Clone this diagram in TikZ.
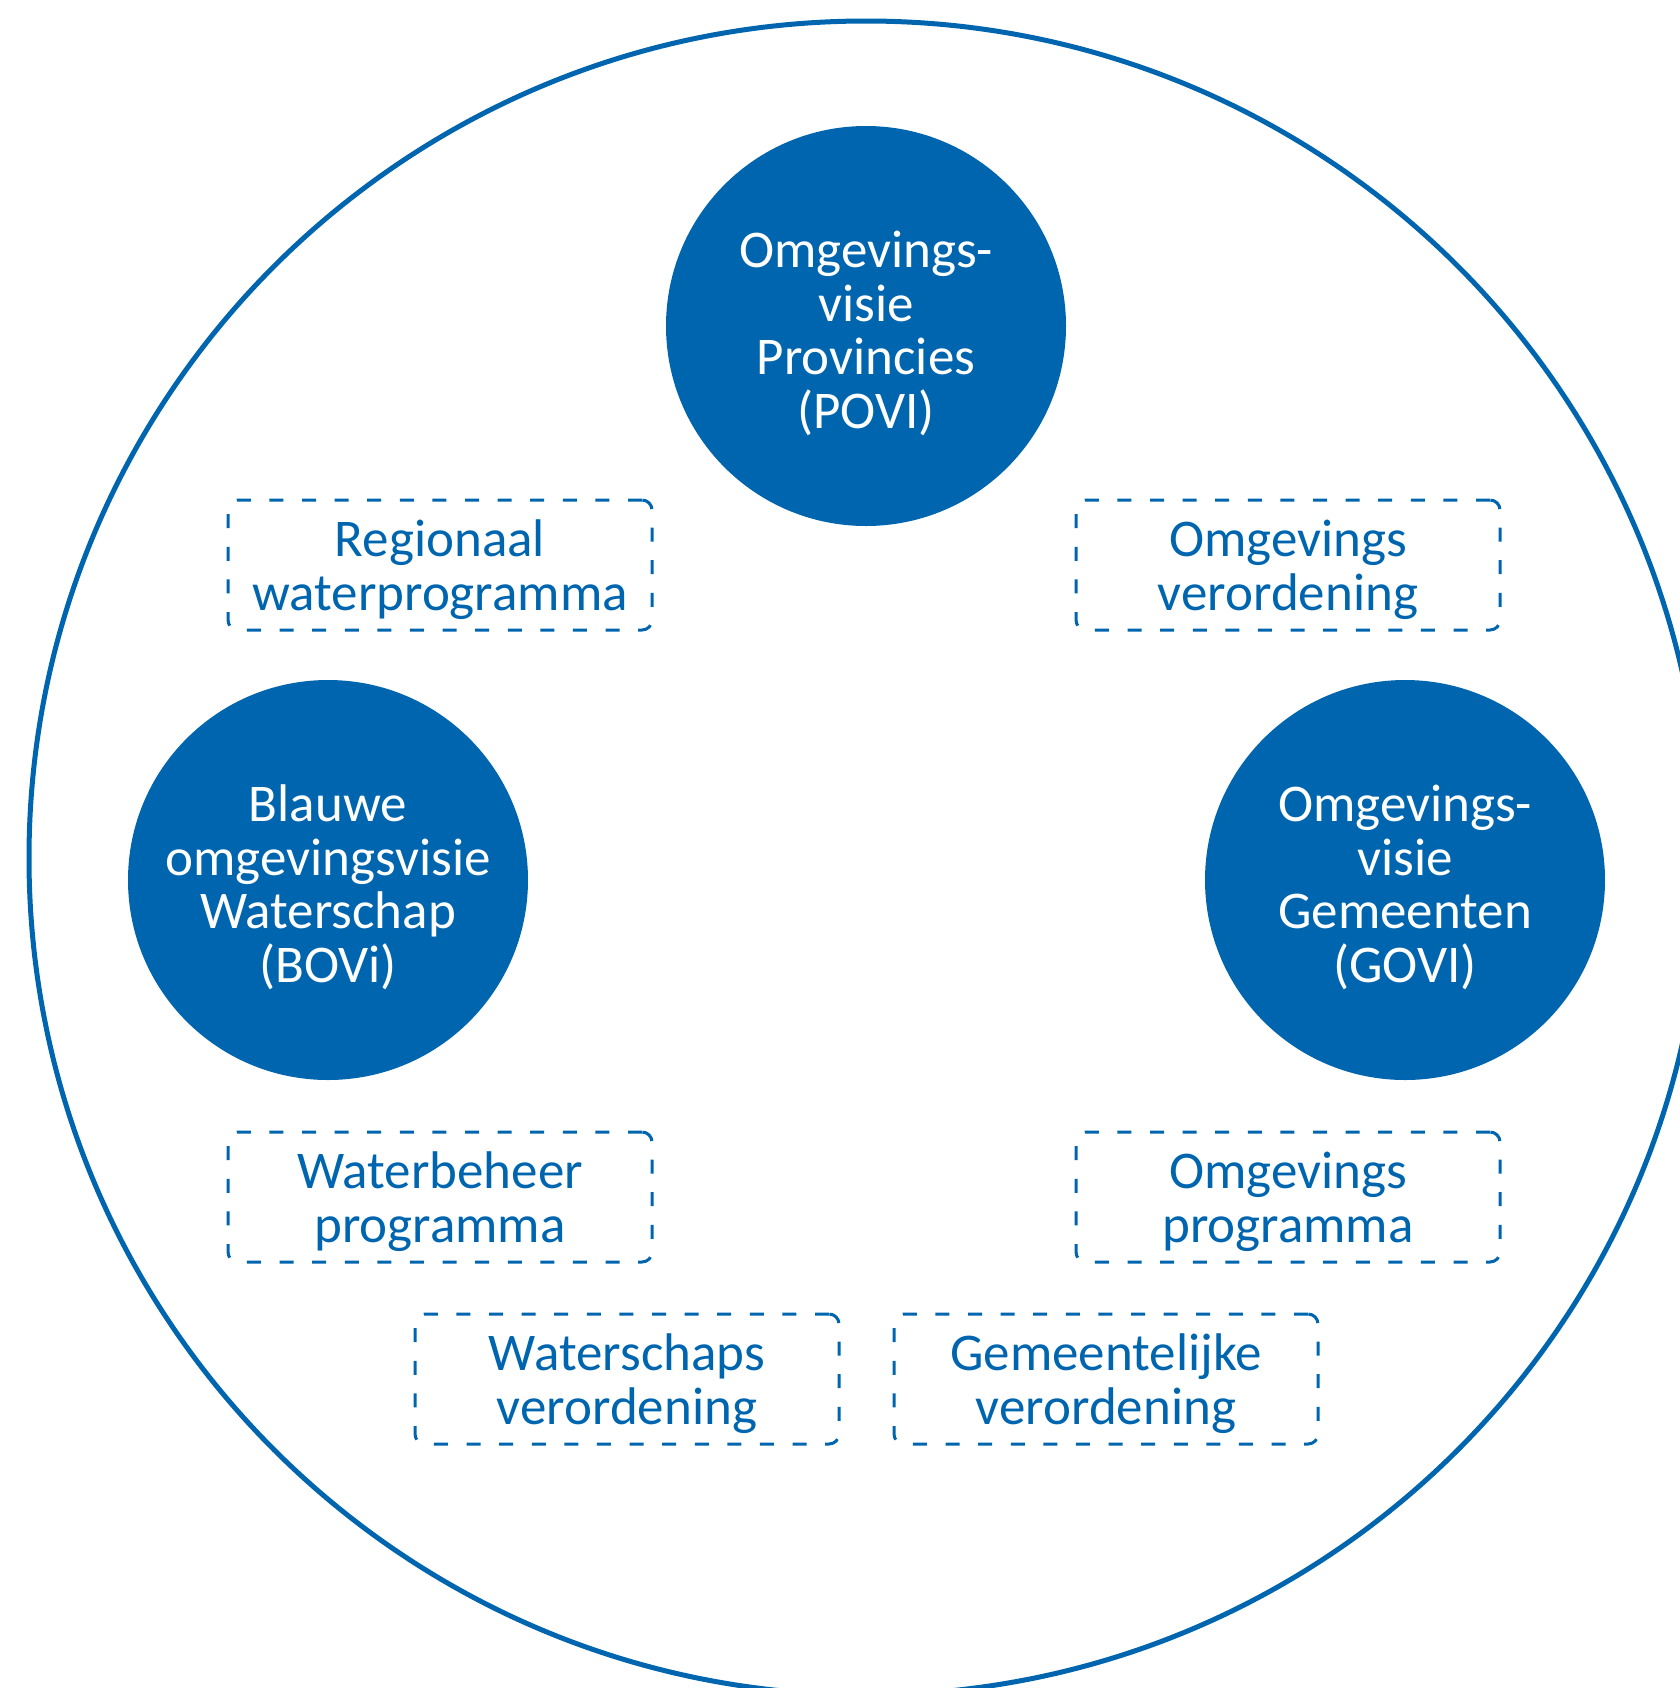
\documentclass[tikz,border=0pt]{standalone}
\usepackage{fontspec}
\setmainfont{Carlito}
\usetikzlibrary{positioning, shapes}
\definecolor{my_blue}{RGB}{0, 101, 175}
\tikzset {
  ring/.style = {draw=my_blue, line width=2.5pt, circle, minimum size=837pt, inner sep=0},
  vision/.style = {circle, fill=my_blue, text=white, minimum size=200pt, inner sep=0, align=center, text height=108pt, text depth=6pt},
  instrument/.style = {draw=my_blue, line width=1.5pt, dash pattern=on 7pt off 9.3pt, rounded corners=5pt, rectangle, minimum width=212pt, minimum height=65pt, inner sep=0, text=my_blue, align=center, text height=52pt, text depth=7pt},
  label/.style = {font=\fontsize{26.5}{26.7}\selectfont}
}

\begin{document}
\begin{tikzpicture}[x=0.5pt, y=-0.5pt, every node/.style={label}]

    \useasboundingbox (0,0) rectangle (1680,1688);

    % outer ring
    \node[ring] (ring) at (866,858) {};

    % the three visions
    \node[vision] (povi) at (866,326) {Omgevings-\\visie\\Provincies\\(POVI)};
    \node[vision] (bovi) at (328,880) {Blauwe\\omgevingsvisie\\Waterschap\\(BOVi)};
    \node[vision] (govi) at (1405,880) {Omgevings-\\visie\\Gemeenten\\(GOVI)};

    % instruments
    \node[instrument] (rwp) at (440,565) {Regionaal\\waterprogramma};
    \node[instrument] (ov) at (1288,565) {Omgevings\\verordening};
    \node[instrument] (wbp) at (440,1197) {Waterbeheer\\programma};
    \node[instrument] (op) at (1288,1197) {Omgevings\\programma};
    \node[instrument] (wsv) at (627,1379) {Waterschaps\\verordening};
    \node[instrument] (gv) at (1106,1379) {Gemeentelijke\\verordening};

  \end{tikzpicture}
\end{document}
